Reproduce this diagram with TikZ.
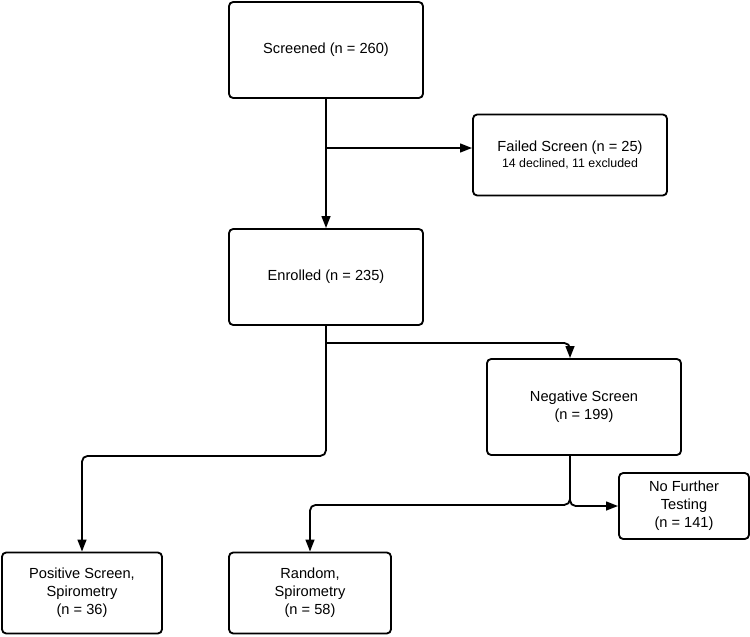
\documentclass[tikz,border=0pt]{standalone}
\usepackage{fontspec}
\setmainfont{Liberation Sans}
\usepackage{tikz}
\usetikzlibrary{arrows.meta,positioning,calc}

\begin{document}
\begin{tikzpicture}[
  x=0.025cm, y=-0.025cm,
  font=\fontsize{10.4pt}{12.8pt}\selectfont,
  box/.style={draw,line width=1.3pt,rounded corners=3pt,align=center,inner sep=3pt},
  big/.style={box,minimum width=4.85cm,minimum height=2.4cm},
  mid/.style={box,minimum width=4.05cm,minimum height=2.025cm},
  arr/.style={-{Triangle[length=0.3cm,width=0.22cm]},line width=1.3pt,rounded corners=4pt}
]
\useasboundingbox (0,0) rectangle (750,637);
\node[big] (scr) at (326,50) {Screened (n = 260)};
\node[box,minimum width=4.85cm,minimum height=2.025cm] (fail) at (570,155)
  {Failed Screen (n = 25)\\[-1pt]{\fontsize{8.8pt}{10pt}\selectfont 14 declined, 11 excluded}};
\node[big] (enr) at (326,277) {Enrolled (n = 235)};
\node[big] (neg) at (584,407) {Negative Screen\\(n = 199)};
\node[box,minimum width=3.25cm,minimum height=1.65cm] (nft) at (684,506) {No Further\\Testing\\(n = 141)};
\node[mid,minimum width=4cm] (pos) at (82,593) {Positive Screen,\\Spirometry\\(n = 36)};
\node[mid] (ran) at (310,593) {Random,\\Spirometry\\(n = 58)};
% branch points
\coordinate (j1) at (326,148);
\coordinate (j2) at (326,343);
\coordinate (negin) at ($(neg.north)+(-14,0)$);
\coordinate (negout) at ($(neg.south)+(-14,0)$);
\draw[arr] (scr) -- (enr);
\draw[arr] (j1) -- (j1 -| fail.west);
\draw[arr] (enr.south) -- ++(0,130) -| (pos.north);
\draw[arr] (j2) -| (negin);
\draw[arr] (negout) -- ++(0,49) -| (ran.north);
\draw[arr] (negout) |- (nft.west);
\end{tikzpicture}
\end{document}
